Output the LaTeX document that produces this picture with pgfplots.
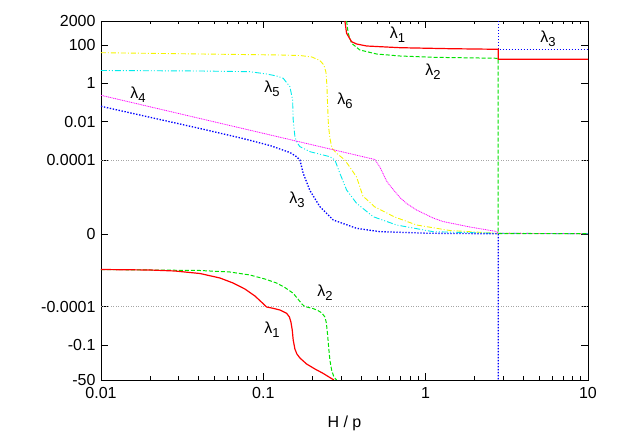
\documentclass[border=0pt]{standalone}
\usepackage{fontspec}
\setmainfont{Liberation Sans}
\usepackage{pgfplots}
\pgfplotsset{compat=1.18}

\definecolor{gpred}{RGB}{255,0,0}
\definecolor{gpgreen}{RGB}{0,225,0}
\definecolor{gpblue}{RGB}{0,0,255}
\definecolor{gpmagenta}{RGB}{255,0,255}
\definecolor{gpcyan}{RGB}{0,235,235}
\definecolor{gpyellow}{RGB}{245,245,0}

\newcommand{\gpfont}{\fontsize{16bp}{19bp}\selectfont}
% lambda with a gnuplot-like subscript
\newcommand{\lam}[1]{λ\raisebox{-0.5ex}{\fontsize{13bp}{13bp}\selectfont #1}}

\begin{document}
\begin{tikzpicture}[font=\gpfont]
\path[use as bounding box] (-101bp,-52bp) rectangle (516bp,380bp);
\begin{axis}[
  at={(0,0)}, anchor=south west,
  scale only axis, width=487bp, height=359bp,
  xmode=log, xmin=0.01, xmax=10,
  ymin=0, ymax=359,
  xtick={0.01,0.1,1,10},
  xticklabels={0.01,0.1,1,10},
  minor xtick={0.02,0.03,0.04,0.05,0.06,0.07,0.08,0.09,0.2,0.3,0.4,0.5,0.6,0.7,0.8,0.9,2,3,4,5,6,7,8,9},
  % transformed y scale: positions of the gnuplot tick labels
  ytick={0,35,73.3,146,220,258.3,296.7,335,359},
  yticklabels={-50,-0.1,-0.0001,0,0.0001,0.01,1,100,2000},
  tick align=inside,
  major tick length=7bp, minor tick length=3.5bp,
  tick style={black, line width=0.5pt},
  axis line style={black, line width=0.8pt},
  ticklabel style={font=\gpfont},
  xlabel={H / p},
  label style={font=\gpfont},
  xlabel style={yshift=-10bp},
  yticklabel style={xshift=-2bp},
  xticklabel style={yshift=-4bp},
  clip=true,
]
% reference lines at +-0.0001
\addplot[gray!70, line width=0.4pt, dash pattern=on 1bp off 1.5bp] coordinates {(0.01,220) (10,220)};
\addplot[gray!70, line width=0.4pt, dash pattern=on 1bp off 1.5bp] coordinates {(0.01,73.3) (10,73.3)};

% lambda_6 (yellow)
\addplot[gpyellow, line width=0.9pt, dash pattern=on 5bp off 2bp on 1bp off 2bp] coordinates {
  (0.01,327.3) (0.0407,326) (0.1265,325) (0.168,324.5) (0.1992,323) (0.2231,319.5)
  (0.2361,315) (0.2430,308) (0.2464,295) (0.2482,280) (0.2517,255) (0.2571,242)
  (0.2645,232) (0.2827,226.7) (0.318,220) (0.3754,203) (0.4104,184) (0.4867,173)
  (0.6445,163) (0.879,155) (1.409,149.5) (2.733,146.7) (10,146.3)
};
% lambda_5 (cyan)
\addplot[gpcyan, line width=0.9pt, dash pattern=on 6bp off 2bp on 1bp off 2bp on 1bp off 2bp] coordinates {
  (0.01,309.5) (0.0407,309) (0.0827,308.3) (0.1048,306) (0.1207,304) (0.1326,301.7)
  (0.1458,293.3) (0.1515,280) (0.1528,260) (0.1565,243.3) (0.1603,238.3) (0.168,233.3)
  (0.1848,230) (0.1936,228.3) (0.2571,223.3) (0.276,220) (0.2962,206.7) (0.3258,190)
  (0.3754,176.7) (0.475,163.3) (0.662,155) (1.112,148.3) (2.733,146.7) (10,146.3)
};
% lambda_4 (magenta)
\addplot[gpmagenta, line width=0.8pt, dash pattern=on 1bp off 0.8bp] coordinates {
  (0.01,284.7) (0.4867,220.5) (0.5224,213) (0.5743,199) (0.6019,194.5) (0.6936,182.5)
  (0.7628,176.5) (0.879,170) (1.112,162) (1.276,158.5) (1.872,153) (2.733,148.5)
  (2.8,146.7) (10,146.3)
};
% lambda_3 (blue)
\addplot[gpblue, line width=1.3pt, dash pattern=on 1.4bp off 1.6bp] coordinates {
  (0.01,273.7) (0.02003,262.7) (0.0407,251.5) (0.0749,241.5) (0.1098,234.5) (0.1458,227.5)
  (0.1603,223.3) (0.168,220) (0.1761,206.7) (0.1936,189.5) (0.2231,173.3) (0.2694,160)
  (0.3754,151.7) (0.5224,148.3) (1.061,146.7) (2.8,146.2) (2.8,0)
};
\addplot[gpblue, line width=1.3pt, dash pattern=on 1.4bp off 1.6bp] coordinates {
  (2.8,359) (2.8,330.5) (10,330.5)
};
% lambda_2 (green)
\addplot[gpgreen, line width=1pt, dash pattern=on 4bp off 2bp] coordinates {
  (0.01,110.5) (0.0407,109.5) (0.0623,108) (0.0827,105) (0.1023,101) (0.1207,97)
  (0.1358,92.5) (0.1528,86.7) (0.1633,81) (0.1729,76) (0.1804,73.2) (0.1882,72.7)
  (0.2021,71.5) (0.2169,69.5) (0.2295,67) (0.2395,63) (0.2446,57) (0.2482,47)
  (0.2510,38) (0.2542,28) (0.2571,20) (0.2634,10) (0.2721,3) (0.2827,0)
};
\addplot[gpgreen, line width=1pt, dash pattern=on 4bp off 2bp] coordinates {
  (0.3258,359) (0.3333,346.7) (0.3497,336.7) (0.3933,330) (0.4985,326) (0.6936,324)
  (1.112,322.7) (2.8,321.7) (2.8,146.3) (10,146.3)
};
% lambda_1 (red)
\addplot[gpred, line width=1.2pt] coordinates {
  (0.01,110.5) (0.02003,110) (0.02856,109) (0.0407,106.5) (0.05404,102) (0.0651,97)
  (0.0770,91) (0.08877,84) (0.0980,77.5) (0.1048,73) (0.1149,71.7) (0.1265,70)
  (0.1392,66.7) (0.1448,63) (0.1479,58) (0.1507,50) (0.1528,40) (0.1565,31)
  (0.1610,26) (0.168,22) (0.1848,16) (0.2079,11) (0.2331,6.7) (0.2721,0)
};
\addplot[gpred, line width=1.2pt] coordinates {
  (0.318,359) (0.3258,346.7) (0.3497,338.3) (0.3754,336) (0.4326,334) (0.6936,332.3)
  (1.409,331.3) (2.8,330.7) (2.8,320.7) (10,320.7)
};

% curve labels
\node at (axis cs:0.67,345) {\lam{1}};
\node at (axis cs:1.11,308) {\lam{2}};
\node at (axis cs:5.66,341) {\lam{3}};
\node at (axis cs:0.0169,285) {\lam{4}};
\node at (axis cs:0.113,291) {\lam{5}};
\node at (axis cs:0.318,279) {\lam{6}};
\node at (axis cs:0.161,180) {\lam{3}};
\node at (axis cs:0.2395,87) {\lam{2}};
\node at (axis cs:0.113,50) {\lam{1}};
\end{axis}
\end{tikzpicture}
\end{document}
